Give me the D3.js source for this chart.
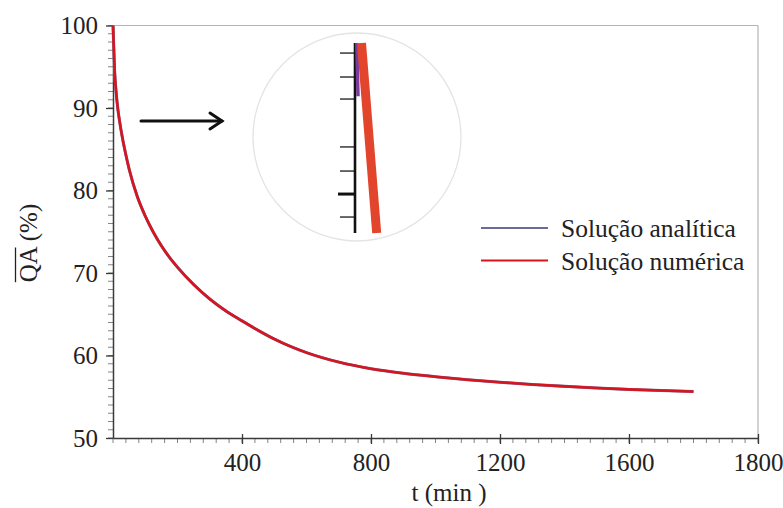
<!DOCTYPE html>
<html>
<head>
<meta charset="utf-8">
<script src="https://cdn.jsdelivr.net/npm/d3@7"></script>
<style>
  body { margin: 0; background: #fff; }
  svg { display: block; }
  svg text { font-family: "Liberation Serif", "Times New Roman", Times, serif; fill: #222; }
</style>
</head>
<body>
<div id="chart"></div>
<script>
// Time (min) and QA (%)
var tValues        = [0, 5, 10, 15, 20, 30, 40, 50, 75, 100, 125, 150, 175, 200, 250, 300, 350, 400, 450, 500, 550, 600, 700, 800, 900, 1000, 1100, 1200, 1300, 1400, 1500, 1600, 1700, 1800];
var analyticValues = [100, 94.5, 91.8, 89.9, 88.5, 86.2, 84.3, 82.6, 79.3, 76.9, 74.95, 73.3, 71.9, 70.7, 68.6, 66.85, 65.4, 64.2, 63.05, 62.0, 61.1, 60.35, 59.2, 58.4, 57.85, 57.43, 57.07, 56.76, 56.49, 56.26, 56.06, 55.89, 55.75, 55.63];
var numericValues  = [100, 94.5, 91.8, 89.9, 88.5, 86.2, 84.3, 82.6, 79.3, 76.9, 74.95, 73.3, 71.9, 70.7, 68.6, 66.85, 65.4, 64.2, 63.05, 62.0, 61.1, 60.35, 59.2, 58.4, 57.85, 57.43, 57.07, 56.76, 56.49, 56.26, 56.06, 55.89, 55.75, 55.63];

// Axis ticks (the last x label reads 1800 in the original figure)
var xTickValues = [400, 800, 1200, 1600, 2000];
var xTickLabels = ['400', '800', '1200', '1600', '1800'];
var yTickValues = [50, 60, 70, 80, 90, 100];

var seriesNames = ['Solução analítica', 'Solução numérica'];

// Inset (magnified start of the curves), in relative inset units
var insetTicks     = [0.053, 0.179, 0.295, 0.547, 0.674, 0.795, 0.916];
var insetMajorTick = 0.795;
var insetNumericX  = [0.065, 0.217];
var insetNumericY  = [0, 1];
var insetAnalyticX = [0.018, 0.03];
var insetAnalyticY = [0, 0.28];

var COLORS = {
  AXIS:       '#3a3a3a',
  FRAME:      '#b4b4b4',
  ANALYTIC:   '#6b6b98',
  NUMERIC:    '#d8151f',
  INSET_RED:  '#e2452b',
  INSET_PURP: '#7a3c9c',
  CIRCLE:     '#e4e4e4'
};
var FONT = '"Liberation Serif", "Times New Roman", Times, serif';

var WIDTH = 783, HEIGHT = 508;
var X0 = 113, X1 = 758, Y0 = 438, Y1 = 25.5;

var svg = d3.select('#chart').append('svg')
  .attr('width', WIDTH)
  .attr('height', HEIGHT);

var x = d3.scaleLinear().domain([0, 2000]).range([X0, X1]);
var y = d3.scaleLinear().domain([50, 100]).range([Y0, Y1]);

// Frame: light top and right border
svg.append('line')
  .attr('x1', X0).attr('x2', X1).attr('y1', Y1).attr('y2', Y1)
  .attr('stroke', COLORS.FRAME).attr('stroke-width', 1.2);
svg.append('line')
  .attr('x1', X1).attr('x2', X1).attr('y1', Y1).attr('y2', Y0)
  .attr('stroke', COLORS.FRAME).attr('stroke-width', 1.2);

// Minor ticks
var yMinor = d3.range(50, 100.1, 1);
svg.append('g').selectAll('line').data(yMinor).enter().append('line')
  .attr('x1', X0 - 5).attr('x2', X0)
  .attr('y1', function(d) { return y(d); })
  .attr('y2', function(d) { return y(d); })
  .attr('stroke', '#777').attr('stroke-width', 0.9);

var xMinor = d3.range(0, 2000.1, 40);
svg.append('g').selectAll('line').data(xMinor).enter().append('line')
  .attr('x1', function(d) { return x(d); })
  .attr('x2', function(d) { return x(d); })
  .attr('y1', Y0).attr('y2', Y0 + 5)
  .attr('stroke', '#777').attr('stroke-width', 0.9);

// Y axis
var yAxis = svg.append('g')
  .attr('transform', 'translate(' + X0 + ',0)')
  .call(d3.axisLeft(y).tickValues(yTickValues).tickSize(7).tickPadding(8).tickSizeOuter(0));
yAxis.select('.domain').attr('stroke', COLORS.AXIS).attr('stroke-width', 1.5);
yAxis.selectAll('.tick line').attr('stroke', COLORS.AXIS).attr('stroke-width', 1.3);
yAxis.selectAll('.tick text')
  .style('font-family', FONT)
  .style('font-size', '25px')
  .attr('fill', '#222');

// X axis
var xAxis = svg.append('g')
  .attr('transform', 'translate(0,' + Y0 + ')')
  .call(d3.axisBottom(x).tickValues(xTickValues)
    .tickFormat(function(d, i) { return xTickLabels[i]; })
    .tickSize(6).tickPadding(9).tickSizeOuter(0));
xAxis.select('.domain').attr('stroke', COLORS.AXIS).attr('stroke-width', 1.5);
xAxis.selectAll('.tick line').attr('stroke', COLORS.AXIS).attr('stroke-width', 1.3).attr('y1', -4);
xAxis.selectAll('.tick text')
  .style('font-family', FONT)
  .style('font-size', '25px')
  .attr('fill', '#222');

// Axis titles
svg.append('text')
  .attr('x', 449)
  .attr('y', 501)
  .attr('text-anchor', 'middle')
  .style('font-family', FONT)
  .style('font-size', '25px')
  .text('t (min )');

var TITLE_X = 37, TITLE_Y = 243;
var yTitle = svg.append('text')
  .attr('transform', 'translate(' + TITLE_X + ',' + TITLE_Y + ') rotate(-90)')
  .attr('text-anchor', 'middle')
  .style('font-family', FONT)
  .style('font-size', '25px')
  .text('QA (%)');

// overline above "QA"
var node = yTitle.node();
var qaStart = node.getStartPositionOfChar(0);
var qaEnd = node.getEndPositionOfChar(1);
svg.append('line')
  .attr('transform', 'translate(' + TITLE_X + ',' + TITLE_Y + ') rotate(-90)')
  .attr('x1', qaStart.x).attr('x2', qaEnd.x)
  .attr('y1', -21.5).attr('y2', -21.5)
  .attr('stroke', '#222').attr('stroke-width', 1.3);

// Curves
var line = d3.line()
  .x(function(d) { return x(d[0]); })
  .y(function(d) { return y(d[1]); })
  .curve(d3.curveMonotoneX);

svg.append('path')
  .datum(d3.zip(tValues, analyticValues))
  .attr('fill', 'none')
  .attr('stroke', COLORS.ANALYTIC)
  .attr('stroke-width', 3)
  .attr('d', line);

svg.append('path')
  .datum(d3.zip(tValues, numericValues))
  .attr('fill', 'none')
  .attr('stroke', COLORS.NUMERIC)
  .attr('stroke-width', 2.6)
  .attr('d', line);

// Arrow pointing to the inset
var arrow = svg.append('g')
  .attr('stroke', '#111')
  .attr('stroke-width', 3)
  .attr('fill', 'none')
  .attr('stroke-linecap', 'round');
arrow.append('line').attr('x1', 141).attr('x2', 222).attr('y1', 121).attr('y2', 121);
arrow.append('path').attr('d', 'M210,113 L222,121 L210,129');

// Inset
var insetX = d3.scaleLinear().domain([0, 1]).range([355, 455]);
var insetY = d3.scaleLinear().domain([0, 1]).range([43, 233]);

svg.append('circle')
  .attr('cx', 357).attr('cy', 137).attr('r', 104)
  .attr('fill', 'none')
  .attr('stroke', COLORS.CIRCLE)
  .attr('stroke-width', 1.3);

svg.append('g').selectAll('line').data(insetTicks).enter().append('line')
  .attr('x1', function(d) { return d === insetMajorTick ? insetX(0) - 17 : insetX(0) - 15; })
  .attr('x2', insetX(0))
  .attr('y1', function(d) { return insetY(d); })
  .attr('y2', function(d) { return insetY(d); })
  .attr('stroke', function(d) { return d === insetMajorTick ? '#111' : '#444'; })
  .attr('stroke-width', function(d) { return d === insetMajorTick ? 3 : 1.6; });

svg.append('line')
  .attr('x1', insetX(0)).attr('x2', insetX(0))
  .attr('y1', insetY(0)).attr('y2', insetY(1))
  .attr('stroke', '#111').attr('stroke-width', 2.6);

var insetLine = d3.line()
  .x(function(d) { return insetX(d[0]); })
  .y(function(d) { return insetY(d[1]); });

svg.append('path')
  .datum(d3.zip(insetAnalyticX, insetAnalyticY))
  .attr('fill', 'none')
  .attr('stroke', COLORS.INSET_PURP)
  .attr('stroke-width', 3.5)
  .attr('d', insetLine);

svg.append('path')
  .datum(d3.zip(insetNumericX, insetNumericY))
  .attr('fill', 'none')
  .attr('stroke', COLORS.INSET_RED)
  .attr('stroke-width', 9)
  .attr('d', insetLine);

// Legend
var legend = svg.append('g').attr('transform', 'translate(481,228)');
var legendColors = [COLORS.ANALYTIC, COLORS.NUMERIC];
legend.selectAll('g').data(seriesNames).enter().append('g')
  .attr('transform', function(d, i) { return 'translate(0,' + (i * 32.5) + ')'; })
  .each(function(d, i) {
    var g = d3.select(this);
    g.append('line')
      .attr('x1', 0).attr('x2', 67).attr('y1', 0).attr('y2', 0)
      .attr('stroke', legendColors[i]).attr('stroke-width', 2);
    g.append('text')
      .attr('x', 80).attr('y', 9)
      .style('font-family', FONT)
      .style('font-size', '25.5px')
      .text(d);
  });
</script>
</body>
</html>
